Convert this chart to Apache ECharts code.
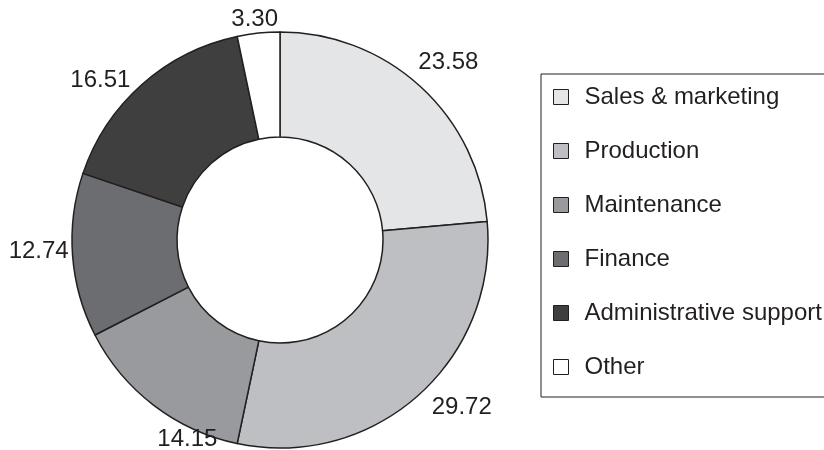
<!DOCTYPE html>
<html>
<head>
<meta charset="utf-8">
<script src="https://cdn.jsdelivr.net/npm/echarts@6/dist/echarts.min.js"></script>
<style>
  html, body { margin: 0; padding: 0; background: #fff; }
  #chart { width: 824px; height: 450px; }
</style>
</head>
<body>
<div id="chart"></div>
<script>
// department shares (%)
const departments = ['Sales & marketing', 'Production', 'Maintenance', 'Finance', 'Administrative support', 'Other']
const shares = [23.58, 29.72, 14.15, 12.74, 16.51, 3.30]
const fills = ['#e4e5e7', '#bebfc2', '#999a9d', '#6c6d70', '#3f3f40', '#ffffff']
// nudges so the value labels sit where the original put them
const labelNudge = [[3, 3], [19, -16], [56, 5], [3, -7], [-17, 24], [0, 23]]

const ink = '#231f20'
const font = 'Liberation Sans, Arial, sans-serif'

const myChart = echarts.init(document.getElementById('chart'))

const options = {
    animation: false,
    legend: {
        orient: 'vertical',
        left: 541,
        top: 74,
        padding: [11, 40, 18, 12],
        borderColor: ink,
        borderWidth: 1,
        itemWidth: 15,
        itemHeight: 15,
        itemGap: 30,
        icon: 'rect',
        itemStyle: { borderColor: ink, borderWidth: 1 },
        textStyle: {
            color: ink,
            fontFamily: font,
            fontSize: 24,
            lineHeight: 24,
            padding: [0, 0, 0, 11]
        },
        data: departments
    },
    series: [
        {
            type: 'pie',
            center: [280, 240],
            radius: [103, 208],
            startAngle: 90,
            clockwise: true,
            label: { show: false },
            labelLine: { show: false },
            itemStyle: { borderColor: ink, borderWidth: 1.5 },
            emphasis: { disabled: true },
            data: departments.map((name, i) => ({
                name: name,
                value: shares[i],
                itemStyle: { color: fills[i] }
            }))
        },
        {
            // invisible ring only used to place the value labels
            type: 'pie',
            center: [280, 240],
            radius: [241, 243],
            startAngle: 90,
            clockwise: true,
            silent: true,
            legendHoverLink: false,
            emphasis: { disabled: true },
            itemStyle: { color: 'transparent', borderWidth: 0 },
            label: {
                show: true,
                position: 'inside',
                color: ink,
                fontFamily: font,
                fontSize: 24,
                formatter: p => p.value.toFixed(2)
            },
            labelLine: { show: false },
            data: departments.map((name, i) => ({
                name: name,
                value: shares[i],
                label: { offset: labelNudge[i] }
            }))
        }
    ]
}
myChart.setOption(options)
</script>
</body>
</html>
